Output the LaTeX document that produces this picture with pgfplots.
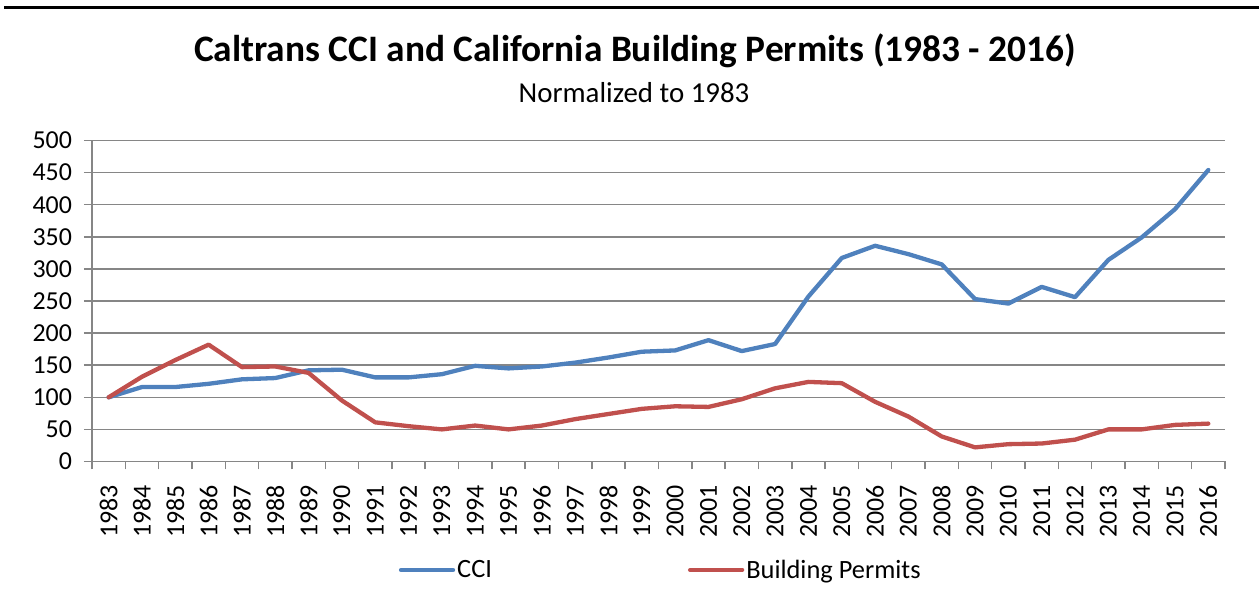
\documentclass[border=0pt]{standalone}
\usepackage{fontspec}
\setmainfont{Carlito}
\usepackage{pgfplots}
\pgfplotsset{compat=1.18}
\definecolor{cciblue}{RGB}{79,129,189}
\definecolor{bpred}{RGB}{192,80,77}
\definecolor{gridgray}{RGB}{134,134,134}

\begin{document}
\begin{tikzpicture}
\useasboundingbox (0bp,0bp) rectangle (1259bp,603bp);
\draw[line width=3bp] (4bp,595.5bp) -- (1259bp,595.5bp);
\node[anchor=base, font=\bfseries\fontsize{37.5}{42}\selectfont] at (635bp,541bp)
  {Caltrans CCI and California Building Permits (1983 - 2016)};
\node[anchor=base, font=\fontsize{29}{33}\selectfont] at (634bp,500bp)
  {Normalized to 1983};
\begin{axis}[
  at={(92bp,141.5bp)}, anchor=south west,
  scale only axis, width=1133bp, height=321bp,
  xmin=-0.5, xmax=33.5, ymin=0, ymax=500,
  axis lines=left,
  axis line style={gridgray, line width=1.5bp, -},
  ymajorgrids, grid style={gridgray, line width=1.5bp},
  ytick={0,50,...,500},
  yticklabels={0,50,100,150,200,250,300,350,400,450,500},
  xtick={0,...,33},
  xticklabels={1983,1984,1985,1986,1987,1988,1989,1990,1991,1992,1993,1994,1995,1996,1997,1998,1999,2000,2001,2002,2003,2004,2005,2006,2007,2008,2009,2010,2011,2012,2013,2014,2015,2016},
  minor xtick={-0.5,0.5,...,33.5},
  tick align=outside,
  major tick length=8bp, minor tick length=8bp,
  tick style={gridgray, line width=1.5bp},
  major x tick style={draw=none},
  tick label style={font=\fontsize{26}{30}\selectfont},
  yticklabel style={xshift=-8.5bp},
  xticklabel style={rotate=90, anchor=east, xshift=-12bp},
  legend style={at={(0.502,-0.338)}, anchor=center, draw=none, fill=none,
    legend columns=2, font=\fontsize{26.5}{30}\selectfont,
    /tikz/every even column/.append style={column sep=194bp}},
  legend image code/.code={\draw[#1, line cap=round] (0bp,0bp) -- (52bp,0bp);},
  every axis plot/.append style={line width=4.3bp, line join=round, line cap=round},
]
\addplot[cciblue] coordinates {
(0,100) (1,116) (2,116) (3,121) (4,128) (5,130) (6,142) (7,143) (8,131) (9,131)
(10,136) (11,149) (12,145) (13,148) (14,154) (15,162) (16,171) (17,173) (18,189) (19,172)
(20,183) (21,257) (22,317) (23,336) (24,323) (25,307) (26,253) (27,246) (28,272) (29,256)
(30,314) (31,349) (32,393) (33,454)};
\addlegendentry{CCI}
\addplot[bpred] coordinates {
(0,100) (1,132) (2,158) (3,182) (4,147) (5,148) (6,138) (7,95) (8,61) (9,55)
(10,50) (11,56) (12,50) (13,56) (14,66) (15,74) (16,82) (17,86) (18,85) (19,97)
(20,114) (21,124) (22,122) (23,93) (24,70) (25,39) (26,22) (27,27) (28,28) (29,34)
(30,50) (31,50) (32,57) (33,59)};
\addlegendentry{Building Permits}
\end{axis}
\end{tikzpicture}
\end{document}
